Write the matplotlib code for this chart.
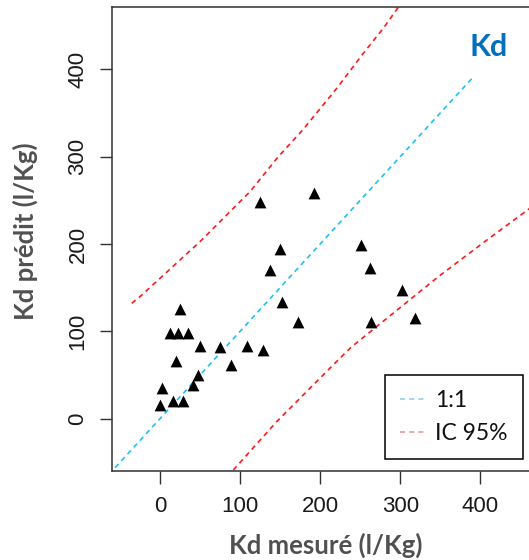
import matplotlib
matplotlib.use("Agg")
import matplotlib.pyplot as plt
from matplotlib.lines import Line2D

kd_mesure = [192.3, 124.5, 149.5, 137.7, 152.0, 172.3, 25.0, 12.5, 22.1, 35.3,
             50.3, 74.6, 108.6, 128.6, 20.0, 88.7, 47.1, 41.6, 2.1, 0.0,
             15.9, 29.1, 251.4, 262.2, 302.2, 263.5, 318.4]
kd_predit = [258.0, 247.7, 194.6, 170.2, 133.3, 110.4, 125.6, 97.8, 97.8, 97.8,
             83.6, 81.7, 82.9, 79.0, 65.7, 61.1, 50.4, 38.2, 34.8, 15.7,
             20.3, 20.3, 198.5, 172.5, 147.0, 111.0, 114.9]

# 1:1 line
ligne_x = [-56, 391]
ligne_y = [-56, 391]

# IC 95% bands
ic_sup_x = [-35.3, -25.0, 49.9, 112.4, 147.7, 178.9, 220.7, 253.9, 278.8, 297.6]
ic_sup_y = [132.1, 139.7, 202.6, 259.9, 299.9, 331.3, 378.2, 418.3, 446.9, 471.0]
ic_inf_x = [91.6, 145.7, 221.5, 239.4, 347.6, 403.4, 460.8, 471.0]
ic_inf_y = [-58.7, -3.4, 66.4, 82.4, 162.6, 201.3, 240.2, 247.0]

ticks = [0, 100, 200, 300, 400]

fig = plt.figure(figsize=(5.29, 5.6), dpi=100)
ax = fig.add_axes([0.2108, 0.1595, 0.8047, 0.8275])

dash = (0, (3, 2.5))
ax.plot(ligne_x, ligne_y, color="#1ec0f5", lw=1.2, linestyle=dash)
ax.plot(ic_sup_x, ic_sup_y, color="#ff1a1a", lw=1.2, linestyle=dash)
ax.plot(ic_inf_x, ic_inf_y, color="#ff1a1a", lw=1.2, linestyle=dash)
ax.scatter(kd_mesure, kd_predit, marker="^", s=72, color="black", zorder=3, linewidths=0)

ax.set_xlim(-60.5, 471)
ax.set_ylim(-59.5, 471)
ax.set_xticks(ticks)
ax.set_yticks(ticks)

for sp in ax.spines.values():
    sp.set_linewidth(1.1)
    sp.set_color("#303030")

ax.tick_params(length=9, width=1.0, color="#303030", labelsize=16, labelcolor="#1a1a1a")
ax.tick_params(axis="x", pad=9)
ax.tick_params(axis="y", pad=7.5)
for lab in ax.get_xticklabels() + ax.get_yticklabels():
    lab.set_family("Liberation Sans")
for lab in ax.get_yticklabels():
    lab.set_rotation(90)
    lab.set_va("center")

lab_font = dict(family="Lato", fontweight="bold", fontsize=18.5, color="#505050")
ax.set_xlabel("Kd mesuré (l/Kg)", va="center", **lab_font)
ax.set_ylabel("Kd prédit (l/Kg)", va="center", **lab_font)
# pixel positions -> axes coords
ax_w = 0.8047 * 529
ax_h = 0.8275 * 560
ax.xaxis.set_label_coords((325.5 - 111.5) / ax_w, -(545 - 470.7) / ax_h)
ax.yaxis.set_label_coords((25 - 111.5) / ax_w, (470.7 - 231) / ax_h)

fig.text(489 / 529, 1 - 46.7 / 560, "Kd", color="#0070C0", family="Lato",
         fontweight="bold", fontsize=22, ha="center", va="center")

handles = [Line2D([], [], color="#8fd3ec", lw=1.2, linestyle=dash),
           Line2D([], [], color="#e89a9a", lw=1.2, linestyle=dash)]
leg = ax.legend(handles, ["1:1", "IC 95%"], loc="lower right",
                bbox_to_anchor=(523 / 529, 1 - 459 / 560), bbox_transform=fig.transFigure,
                borderaxespad=0, prop=dict(family="Lato", size=16.5),
                handlelength=1.15, handletextpad=0.4, labelspacing=0.5,
                borderpad=0.66, fancybox=False, framealpha=1, edgecolor="black")
leg.get_frame().set_linewidth(1.1)
for t in leg.get_texts():
    t.set_color("#111111")

fig.savefig("out.png", dpi=100)
